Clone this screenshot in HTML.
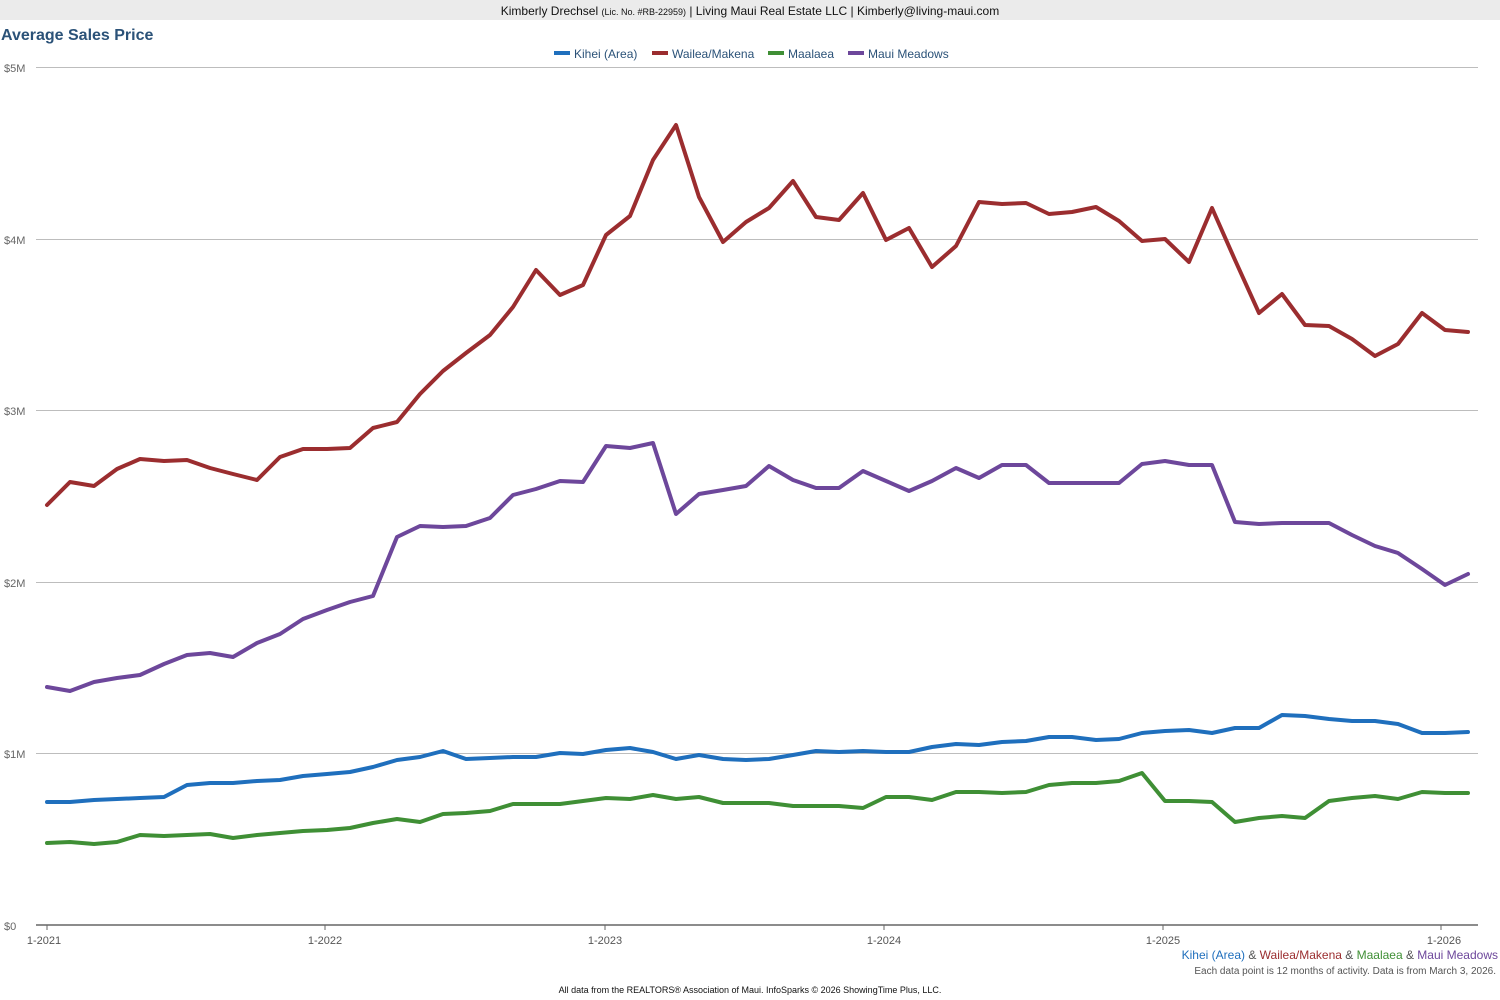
<!DOCTYPE html>
<html><head><meta charset="utf-8"><style>
html,body{margin:0;padding:0;background:#fff;width:1500px;height:1000px;overflow:hidden;font-family:"Liberation Sans",Arial,sans-serif}
</style></head><body>
<svg width="1500" height="1000" xmlns="http://www.w3.org/2000/svg" font-family="Liberation Sans, Arial, sans-serif">
<rect x="0" y="0" width="1500" height="20" fill="#ebebeb"/>
<text x="750" y="15" text-anchor="middle" font-size="12" fill="#111">Kimberly Drechsel <tspan font-size="9">(Lic. No. #RB-22959)</tspan> | Living Maui Real Estate LLC | Kimberly@living-maui.com</text>
<text x="1" y="40" font-size="16" font-weight="bold" fill="#2b5278">Average Sales Price</text>
<g font-size="12" fill="#2b5278">
<rect x="554" y="51" width="16" height="4" fill="#1f6fbd"/><text x="574" y="58">Kihei (Area)</text>
<rect x="652" y="51" width="16" height="4" fill="#9b2d2f"/><text x="672" y="58">Wailea/Makena</text>
<rect x="768" y="51" width="16" height="4" fill="#3f8f35"/><text x="788" y="58">Maalaea</text>
<rect x="848" y="51" width="16" height="4" fill="#6d479b"/><text x="868" y="58">Maui Meadows</text>
</g>
<g stroke="#bdbdbd" stroke-width="1">
<line x1="36" x2="1478" y1="67.5" y2="67.5"/><line x1="36" x2="1478" y1="239.5" y2="239.5"/>
<line x1="36" x2="1478" y1="410.5" y2="410.5"/><line x1="36" x2="1478" y1="582.5" y2="582.5"/>
<line x1="36" x2="1478" y1="753.5" y2="753.5"/>
</g>
<line x1="36" x2="1478" y1="925" y2="925" stroke="#666" stroke-width="1.5"/>
<g stroke="#666"><line x1="47" x2="47" y1="925" y2="930"/><line x1="325" x2="325" y1="925" y2="930"/><line x1="605" x2="605" y1="925" y2="930"/><line x1="884" x2="884" y1="925" y2="930"/><line x1="1163" x2="1163" y1="925" y2="930"/><line x1="1441" x2="1441" y1="925" y2="930"/></g>
<g font-size="11" fill="#666">
<text x="4" y="72">$5M</text><text x="4" y="244">$4M</text><text x="4" y="415">$3M</text><text x="4" y="587">$2M</text><text x="4" y="758">$1M</text><text x="4" y="930">$0</text>
</g>
<g font-size="11" fill="#555" text-anchor="middle">
<text x="44" y="944">1-2021</text><text x="325" y="944">1-2022</text><text x="605" y="944">1-2023</text><text x="884" y="944">1-2024</text><text x="1163" y="944">1-2025</text><text x="1444" y="944">1-2026</text>
</g>
<g fill="none" stroke-width="4" stroke-linejoin="round" stroke-linecap="round">
<polyline stroke="#9b2d2f" points="47,505 70,482 94,486 117,469 140,459 164,461 187,460 210,468 233,474 257,480 280,457 303,449 327,449 350,448 373,428 397,422 420,394 443,371 466,353 490,335 513,307 536,270 560,295 583,285 606,235 630,216 653,160 676,125 699,197 723,242 746,222 769,208 793,181 816,217 839,220 863,193 886,240 909,228 932,267 956,246 979,202 1002,204 1026,203 1049,214 1072,212 1096,207 1119,221 1142,241 1165,239 1189,262 1212,208 1235,260 1259,313 1282,294 1305,325 1329,326 1352,339 1375,356 1398,344 1422,313 1445,330 1468,332"/>
<polyline stroke="#6d479b" points="47,687 70,691 94,682 117,678 140,675 164,664 187,655 210,653 233,657 257,643 280,634 303,619 327,610 350,602 373,596 397,537 420,526 443,527 466,526 490,518 513,495 536,489 560,481 583,482 606,446 630,448 653,443 676,514 699,494 723,490 746,486 769,466 793,480 816,488 839,488 863,471 886,481 909,491 932,481 956,468 979,478 1002,465 1026,465 1049,483 1072,483 1096,483 1119,483 1142,464 1165,461 1189,465 1212,465 1235,522 1259,524 1282,523 1305,523 1329,523 1352,535 1375,546 1398,553 1422,569 1445,585 1468,574"/>
<polyline stroke="#1f6fbd" points="47,802 70,802 94,800 117,799 140,798 164,797 187,785 210,783 233,783 257,781 280,780 303,776 327,774 350,772 373,767 397,760 420,757 443,751 466,759 490,758 513,757 536,757 560,753 583,754 606,750 630,748 653,752 676,759 699,755 723,759 746,760 769,759 793,755 816,751 839,752 863,751 886,752 909,752 932,747 956,744 979,745 1002,742 1026,741 1049,737 1072,737 1096,740 1119,739 1142,733 1165,731 1189,730 1212,733 1235,728 1259,728 1282,715 1305,716 1329,719 1352,721 1375,721 1398,724 1422,733 1445,733 1468,732"/>
<polyline stroke="#3f8f35" points="47,843 70,842 94,844 117,842 140,835 164,836 187,835 210,834 233,838 257,835 280,833 303,831 327,830 350,828 373,823 397,819 420,822 443,814 466,813 490,811 513,804 536,804 560,804 583,801 606,798 630,799 653,795 676,799 699,797 723,803 746,803 769,803 793,806 816,806 839,806 863,808 886,797 909,797 932,800 956,792 979,792 1002,793 1026,792 1049,785 1072,783 1096,783 1119,781 1142,773 1165,801 1189,801 1212,802 1235,822 1259,818 1282,816 1305,818 1329,801 1352,798 1375,796 1398,799 1422,792 1445,793 1468,793"/>
</g>
<text x="1498" y="959" text-anchor="end" font-size="12"><tspan fill="#1f6fbd">Kihei (Area)</tspan><tspan fill="#555"> &amp; </tspan><tspan fill="#9b2d2f">Wailea/Makena</tspan><tspan fill="#555"> &amp; </tspan><tspan fill="#3f8f35">Maalaea</tspan><tspan fill="#555"> &amp; </tspan><tspan fill="#6d479b">Maui Meadows</tspan></text>
<text x="1496" y="974" text-anchor="end" font-size="10" fill="#555">Each data point is 12 months of activity. Data is from March 3, 2026.</text>
<text x="750" y="993" text-anchor="middle" font-size="9" fill="#111">All data from the REALTORS® Association of Maui. InfoSparks © 2026 ShowingTime Plus, LLC.</text>
</svg>
</body></html>
